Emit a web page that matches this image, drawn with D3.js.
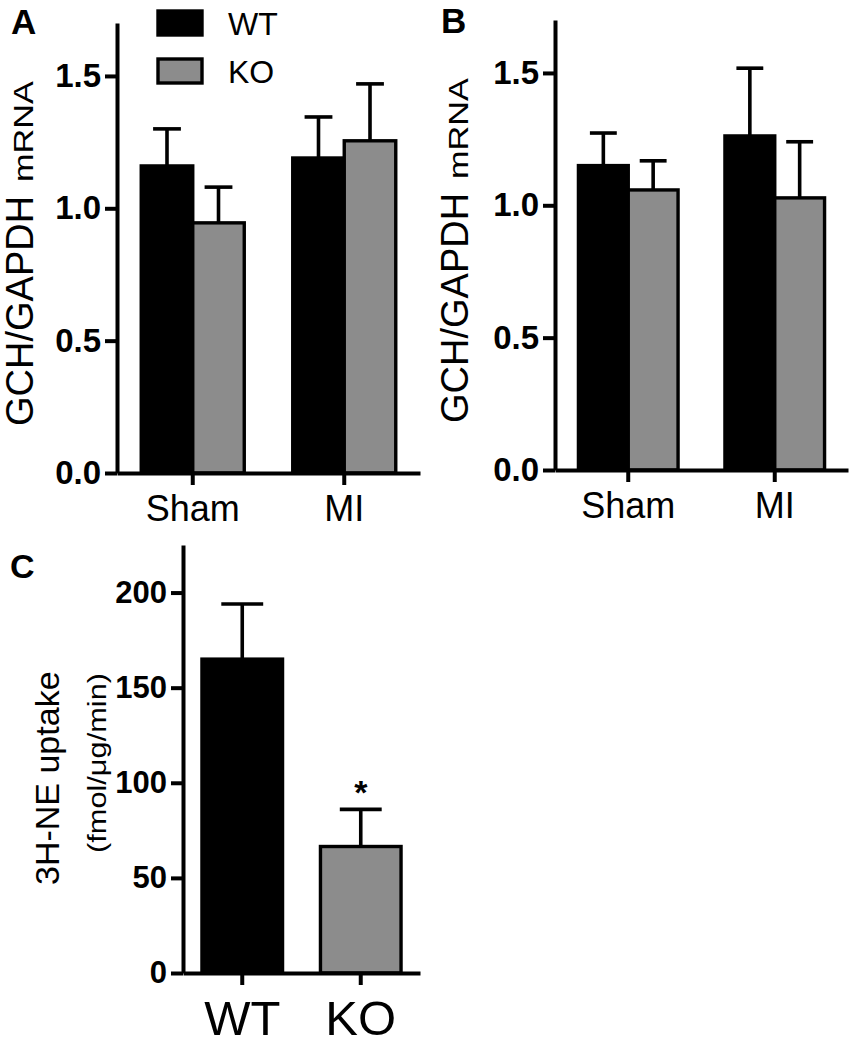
<!DOCTYPE html>
<html>
<head>
<meta charset="utf-8">
<script src="https://cdn.jsdelivr.net/npm/d3@7"></script>
<style>
  html, body { margin: 0; padding: 0; background: #fff; }
  svg { display: block; font-family: "Liberation Sans", Arial, sans-serif; }
</style>
</head>
<body>
<svg id="chart" width="856" height="1050"></svg>
<script>
// ---------- data ----------
const groupsAB = ["Sham", "MI"];
const seriesNames = ["WT", "KO"];
const aWT = [1.16, 1.19];
const aWTerr = [0.14, 0.155];
const aKO = [0.945, 1.255];
const aKOerr = [0.135, 0.215];
const bWT = [1.15, 1.262];
const bWTerr = [0.123, 0.256];
const bKO = [1.058, 1.028];
const bKOerr = [0.11, 0.212];
const cCats = ["WT", "KO"];
const cVals = [165, 66.5];
const cErr = [29, 19.5];
const abTicks = [0, 0.5, 1.0, 1.5];
const cTicks = [0, 50, 100, 150, 200];
const colors = { WT: "#000000", KO: "#8c8c8c" };

const svg = d3.select("#chart");
const AX_W = 4;

function styleAxis(g, fs) {
  g.selectAll("path, line").attr("stroke", "#000").attr("stroke-width", AX_W);
  g.selectAll("text").attr("fill", "#000").attr("font-size", fs);
  g.attr("font-family", null);
}

// grouped panel (A, B)
function groupedPanel(p) {
  const g = svg.append("g");
  const y = d3.scaleLinear().domain([0, 1.7]).range([p.yBase, p.yTop]);
  const x = d3.scaleBand().domain(groupsAB).range([p.x0, p.x1])
    .paddingInner(0.32).paddingOuter(0.16);
  const xs = d3.scaleBand().domain(seriesNames).range([0, x.bandwidth()]);
  const rows = [];
  groupsAB.forEach((grp, i) => {
    rows.push({ grp, s: "WT", v: p.wt[i], e: p.wtErr[i] });
    rows.push({ grp, s: "KO", v: p.ko[i], e: p.koErr[i] });
  });
  const bw = xs.bandwidth();
  // error bars
  const eb = g.append("g");
  rows.forEach(r => {
    const cx = x(r.grp) + xs(r.s) + bw / 2;
    eb.append("line").attr("x1", cx).attr("x2", cx)
      .attr("y1", y(r.v)).attr("y2", y(r.v + r.e))
      .attr("stroke", "#000").attr("stroke-width", 3.6);
    eb.append("line").attr("x1", cx - bw * 0.27).attr("x2", cx + bw * 0.27)
      .attr("y1", y(r.v + r.e)).attr("y2", y(r.v + r.e))
      .attr("stroke", "#000").attr("stroke-width", 3.6);
  });
  g.append("g").selectAll("rect").data(rows).join("rect")
    .attr("x", d => x(d.grp) + xs(d.s))
    .attr("y", d => y(d.v))
    .attr("width", bw)
    .attr("height", d => y(0) - y(d.v))
    .attr("fill", d => colors[d.s])
    .attr("stroke", "#000").attr("stroke-width", 3.4);
  // axes
  const ya = g.append("g").attr("transform", `translate(${p.x0},0)`)
    .call(d3.axisLeft(y).tickValues(abTicks).tickSize(12).tickSizeOuter(0)
      .tickPadding(4).tickFormat(d3.format(".1f")));
  styleAxis(ya, 33);
  ya.selectAll("text").attr("font-weight", "bold");
  const xa = g.append("g").attr("transform", `translate(0,${p.yBase})`)
    .call(d3.axisBottom(x).tickSize(12).tickSizeOuter(0).tickPadding(p.xPad));
  styleAxis(xa, 36);
  // y title
  g.append("text").attr("transform", `translate(${p.titleX},${p.titleY}) rotate(-90)`)
    .attr("font-size", 38).text("GCH/GAPDH");
  g.append("text").attr("transform", `translate(${p.titleX},${p.titleY - 244}) rotate(-90)`)
    .attr("font-size", 28).attr("textLength", 101).attr("lengthAdjust", "spacingAndGlyphs")
    .text("mRNA");
  // panel letter
  svg.append("text").attr("x", p.lx).attr("y", p.ly).attr("font-size", 35)
    .attr("font-weight", "bold").text(p.letter);
}

groupedPanel({ letter: "A", lx: 11, ly: 34, x0: 117, x1: 420, yTop: 23, yBase: 473,
  wt: aWT, wtErr: aWTerr, ko: aKO, koErr: aKOerr, titleX: 33, titleY: 426, xPad: 10 });
groupedPanel({ letter: "B", lx: 441, ly: 33, x0: 555, x1: 848, yTop: 20, yBase: 470,
  wt: bWT, wtErr: bWTerr, ko: bKO, koErr: bKOerr, titleX: 468, titleY: 423, xPad: 10 });

// legend (panel A)
const leg = svg.append("g");
seriesNames.forEach((s, i) => {
  leg.append("rect").attr("x", 158).attr("y", 11 + i * 48).attr("width", 44).attr("height", 24)
    .attr("fill", colors[s]).attr("stroke", "#000").attr("stroke-width", 3.4);
  leg.append("text").attr("x", 228).attr("y", 35 + i * 48).attr("font-size", 32).text(s);
});

// panel C
(function () {
  const x0 = 183, x1 = 420, yTop = 545, yBase = 973;
  const g = svg.append("g");
  const y = d3.scaleLinear().domain([0, 225]).range([yBase, yTop]);
  const x = d3.scaleBand().domain(cCats).range([x0, x1]).paddingInner(0.32).paddingOuter(0.16);
  const bw = x.bandwidth();
  cCats.forEach((c, i) => {
    const cx = x(c) + bw / 2;
    g.append("line").attr("x1", cx).attr("x2", cx)
      .attr("y1", y(cVals[i])).attr("y2", y(cVals[i] + cErr[i]))
      .attr("stroke", "#000").attr("stroke-width", 3.6);
    g.append("line").attr("x1", cx - bw * 0.26).attr("x2", cx + bw * 0.26)
      .attr("y1", y(cVals[i] + cErr[i])).attr("y2", y(cVals[i] + cErr[i]))
      .attr("stroke", "#000").attr("stroke-width", 3.6);
  });
  g.append("g").selectAll("rect").data(cCats).join("rect")
    .attr("x", d => x(d)).attr("y", (d, i) => y(cVals[i]))
    .attr("width", bw).attr("height", (d, i) => y(0) - y(cVals[i]))
    .attr("fill", d => colors[d]).attr("stroke", "#000").attr("stroke-width", 3.4);
  // significance star
  g.append("text").attr("x", x("KO") + bw / 2).attr("y", y(cVals[1] + cErr[1]) - 5)
    .attr("text-anchor", "middle").attr("font-size", 34).attr("font-weight", "bold").text("*");
  const ya = g.append("g").attr("transform", `translate(${x0},0)`)
    .call(d3.axisLeft(y).tickValues(cTicks).tickSize(12).tickSizeOuter(0).tickPadding(4));
  styleAxis(ya, 31);
  ya.selectAll("text").attr("font-weight", "bold");
  const xa = g.append("g").attr("transform", `translate(0,${yBase})`)
    .call(d3.axisBottom(x).tickSize(12).tickSizeOuter(0).tickPadding(15));
  styleAxis(xa, 49);
  g.append("text").attr("transform", "translate(59,885) rotate(-90)")
    .attr("font-size", 34).text("3H-NE uptake");
  g.append("text").attr("transform", "translate(106,853) rotate(-90)")
    .attr("font-size", 26).attr("textLength", 180).attr("lengthAdjust", "spacingAndGlyphs")
    .text("(fmol/μg/min)");
  svg.append("text").attr("x", 10).attr("y", 578).attr("font-size", 34)
    .attr("font-weight", "bold").text("C");
})();
</script>
</body>
</html>
